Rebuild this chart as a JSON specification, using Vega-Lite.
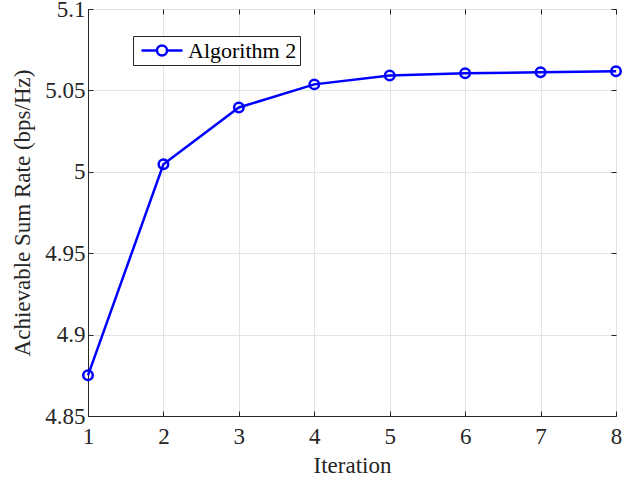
{
  "$schema": "https://vega.github.io/schema/vega-lite/v6.json",
  "width": 528,
  "height": 407,
  "autosize": {"type": "none"},
  "padding": {"left": 88, "top": 9, "right": 21, "bottom": 68},
  "background": "white",
  "config": {
    "view": {"stroke": "#262626", "strokeWidth": 1},
    "font": "Liberation Serif",
    "axis": {
      "labelFont": "Liberation Serif",
      "titleFont": "Liberation Serif",
      "labelFontSize": 23,
      "titleFontSize": 23,
      "titleFontWeight": "normal",
      "labelColor": "#262626",
      "titleColor": "#262626",
      "domainColor": "#262626",
      "tickColor": "#262626",
      "tickSize": -5,
      "gridColor": "#e3e3e3",
      "gridWidth": 1
    }
  },
  "data": {
    "values": [
      {"iter": 1, "rate": 4.875, "series": "Algorithm 2"},
      {"iter": 2, "rate": 5.0046, "series": "Algorithm 2"},
      {"iter": 3, "rate": 5.0395, "series": "Algorithm 2"},
      {"iter": 4, "rate": 5.0537, "series": "Algorithm 2"},
      {"iter": 5, "rate": 5.0592, "series": "Algorithm 2"},
      {"iter": 6, "rate": 5.0605, "series": "Algorithm 2"},
      {"iter": 7, "rate": 5.0612, "series": "Algorithm 2"},
      {"iter": 8, "rate": 5.0617, "series": "Algorithm 2"}
    ]
  },
  "layer": [
    {
      "mark": {"type": "line", "strokeWidth": 2.5, "point": {"filled": false, "size": 90, "strokeWidth": 2.5, "fill": "transparent"}},
      "encoding": {
        "x": {
          "field": "iter", "type": "quantitative",
          "scale": {"domain": [1, 8], "nice": false},
          "axis": {"title": "Iteration", "values": [1,2,3,4,5,6,7,8], "labelPadding": 14, "titlePadding": 6, "labelFlush": false}
        },
        "y": {
          "field": "rate", "type": "quantitative",
          "scale": {"domain": [4.85, 5.1], "nice": false, "zero": false},
          "axis": {"title": "Achievable Sum Rate (bps/Hz)", "values": [4.85, 4.9, 4.95, 5, 5.05, 5.1], "format": "~g", "labelPadding": 8, "titlePadding": 10, "labelFlush": false}
        },
        "color": {
          "field": "series", "type": "nominal",
          "scale": {"range": ["#0000ff"]},
          "legend": {
            "title": null,
            "orient": "none",
            "legendX": 45,
            "legendY": 27,
            "direction": "vertical",
            "fillColor": "white",
            "strokeColor": "#262626",
            "padding": 3,
            "labelFont": "Liberation Serif",
            "labelFontSize": 22,
            "labelColor": "#000000",
            "symbolType": "M-0.6,0H0.95M1.95,0H3.5M1.95,0A0.5,0.5,0,1,1,0.95,0A0.5,0.5,0,1,1,1.95,0",
            "symbolSize": 400,
            "symbolStrokeWidth": 2.5,
            "symbolFillColor": "transparent",
            "labelOffset": 29
          }
        }
      }
    },
    {
      "mark": {"type": "point", "opacity": 0},
      "encoding": {
        "x": {
          "field": "iter", "type": "quantitative",
          "scale": {"domain": [1, 8], "nice": false},
          "axis": {"orient": "top", "title": null, "labels": false, "grid": false, "domain": false, "values": [1,2,3,4,5,6,7,8]}
        },
        "y": {
          "field": "rate", "type": "quantitative",
          "scale": {"domain": [4.85, 5.1], "nice": false, "zero": false},
          "axis": {"orient": "right", "title": null, "labels": false, "grid": false, "domain": false, "values": [4.85, 4.9, 4.95, 5, 5.05, 5.1]}
        }
      }
    }
  ],
  "resolve": {"axis": {"x": "independent", "y": "independent"}}
}
